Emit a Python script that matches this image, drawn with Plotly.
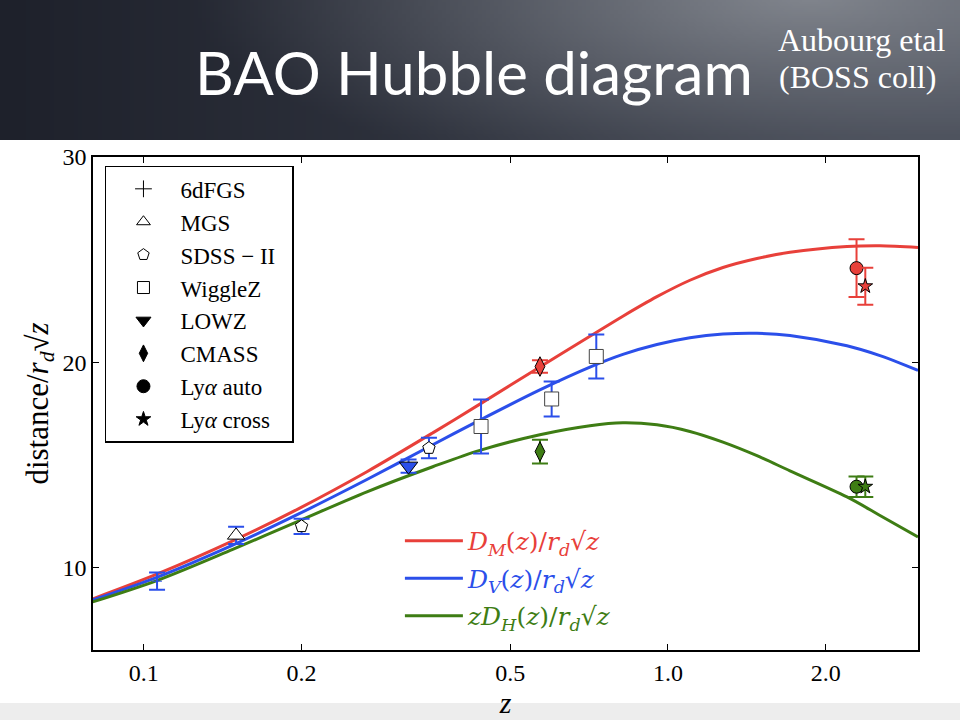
import base64, struct, zlib, math
import plotly.graph_objects as go

# ---------------- data ----------------
curve_z = [0.0799, 0.1059, 0.1478, 0.1984, 0.2665, 0.3559, 0.4377, 0.5697, 0.7099,
           0.8205, 0.9528, 1.1015, 1.2735, 1.4786, 1.7094, 2.1957, 2.5387, 3.0]
dm_curve = [8.49, 9.69, 11.31, 12.91, 14.68, 16.57, 17.97, 19.78, 21.27,
            22.25, 23.20, 24.00, 24.62, 25.06, 25.36, 25.64, 25.68, 25.60]
dv_curve = [8.44, 9.54, 11.11, 12.65, 14.30, 15.99, 17.19, 18.66, 19.77,
            20.39, 20.87, 21.20, 21.38, 21.42, 21.31, 20.81, 20.33, 19.61]
dh_curve = [8.34, 9.38, 10.90, 12.30, 13.70, 14.92, 15.72, 16.48, 16.92,
            17.06, 16.96, 16.64, 16.12, 15.46, 14.72, 13.45, 12.55, 11.50]

# D_V points
sixdf_z, sixdf_v, sixdf_e = [0.106], [9.35], [0.42]
mgs_z, mgs_v, mgs_e = [0.15], [11.58], [0.42]
sdss_z, sdss_v, sdss_e = [0.20, 0.35], [12.02, 15.83], [0.37, 0.50]
wigz_z, wigz_v, wigz_e = [0.44, 0.60, 0.73], [16.88, 18.22, 20.29], [1.32, 0.85, 1.07]
lowz_z, lowz_v, lowz_e = [0.32], [14.95], [0.32]
# D_M points
cmass_z, cmass_dm, cmass_dm_e = [0.57], [19.80], [0.30]
lya_auto_z, lya_auto_dm, lya_auto_dm_e = [2.29], [24.59], [1.40]
lya_cross_z, lya_cross_dm, lya_cross_dm_e = [2.38], [23.71], [0.90]
# z D_H points
cmass_dh, cmass_dh_e = [15.66], [0.58]
lya_auto_dh, lya_auto_dh_e = [13.95], [0.50]
lya_cross_dh, lya_cross_dh_e = [13.95], [0.50]

x_tickvals = [0.1, 0.2, 0.5, 1.0, 2.0]
x_ticktext = ["0.1", "0.2", "0.5", "1.0", "2.0"]
y_tickvals = [10, 20, 30]

RED = "#E8403A"
BLUE = "#2B4FEA"
GREEN = "#3E7D14"
SERIF = "Liberation Serif"

# ---------------- header gradient image ----------------
def header_png(w, h):
    rows = []
    for j in range(h):
        y = (j + 0.5) / h * 140.0
        row = bytearray([0])
        for i in range(w):
            x = (i + 0.5) / w * 960.0
            fx = x / 960.0
            base = [30 + 36 * fx, 33 + 38 * fx, 43 + 40 * fx]
            t = math.sqrt(((x - 810) / 620.0) ** 2 + ((y + 5) / 200.0) ** 2)
            k = max(0.0, 1 - t) ** 1.15
            light = [130, 134, 142]
            c = [int(base[n] + (light[n] - base[n]) * k) for n in range(3)]
            row.extend(c)
        rows.append(bytes(row))
    raw = b"".join(rows)

    def chunk(t, d):
        return struct.pack(">I", len(d)) + t + d + struct.pack(">I", zlib.crc32(t + d) & 0xffffffff)

    png = (b"\x89PNG\r\n\x1a\n" + chunk(b"IHDR", struct.pack(">IIBBBBB", w, h, 8, 2, 0, 0, 0))
           + chunk(b"IDAT", zlib.compress(raw)) + chunk(b"IEND", b""))
    return "data:image/png;base64," + base64.b64encode(png).decode()

fig = go.Figure()

# ---------------- curves ----------------
for yy, col, nm in [(dm_curve, RED, "<i>D</i><sub><i>M</i></sub>(<i>z</i>)/<i>r</i><sub><i>d</i></sub>√<i>z</i>"),
                    (dv_curve, BLUE, "<i>D</i><sub><i>V</i></sub>(<i>z</i>)/<i>r</i><sub><i>d</i></sub>√<i>z</i>"),
                    (dh_curve, GREEN, "<i>zD</i><sub><i>H</i></sub>(<i>z</i>)/<i>r</i><sub><i>d</i></sub>√<i>z</i>")]:
    fig.add_trace(go.Scatter(x=curve_z, y=yy, mode="lines",
                             line=dict(color=col, width=3, shape="spline", smoothing=0.9),
                             name="<span style='color:%s'>%s</span>" % (col, nm), legend="legend2",
                             legendgroup=nm, hoverinfo="skip"))

def pts(x, y, e, sym, fill, ecol, size, edge="black"):
    fig.add_trace(go.Scatter(x=x, y=y, mode="markers", showlegend=False,
                             error_y=dict(type="data", array=e, color=ecol, thickness=2, width=8),
                             marker=dict(symbol=sym, color=fill, size=size, line=dict(color=edge, width=1))))

pts(sixdf_z, sixdf_v, sixdf_e, "cross-thin", BLUE, BLUE, 7, BLUE)
pts(mgs_z, mgs_v, mgs_e, "triangle-up", "white", BLUE, 15)
pts(sdss_z, sdss_v, sdss_e, "pentagon", "white", BLUE, 13)
pts(wigz_z, wigz_v, wigz_e, "square", "white", BLUE, 14, "#444444")
pts(lowz_z, lowz_v, lowz_e, "triangle-down", BLUE, BLUE, 16)
pts(cmass_z, cmass_dm, cmass_dm_e, "diamond-tall", RED, RED, 14)
pts(cmass_z, cmass_dh, cmass_dh_e, "diamond-tall", GREEN, GREEN, 14)
pts(lya_auto_z, lya_auto_dm, lya_auto_dm_e, "circle", RED, RED, 13)
pts(lya_cross_z, lya_cross_dm, lya_cross_dm_e, "star", RED, RED, 11)
pts(lya_auto_z, lya_auto_dh, lya_auto_dh_e, "circle", GREEN, GREEN, 13)
pts(lya_cross_z, lya_cross_dh, lya_cross_dh_e, "star", GREEN, GREEN, 11)

# ---------------- marker legend (black symbols) ----------------
leg_items = [("6dFGS", "cross-thin", "black", 12), ("MGS", "triangle-up-open", "black", 12),
             ("SDSS − II\u00a0\u00a0", "pentagon-open", "black", 12), ("WiggleZ", "square-open", "black", 12),
             ("LOWZ", "triangle-down", "black", 13), ("CMASS", "diamond-tall", "black", 12),
             ("Ly<i>α</i> auto", "circle", "black", 13), ("Ly<i>α</i> cross", "star", "black", 11)]
for nm, sym, col, sz in leg_items:
    fig.add_trace(go.Scatter(x=[None], y=[None], mode="markers", name=nm, legend="legend", legendgroup=nm,
                             marker=dict(symbol=sym, color=col, size=sz, line=dict(color="black", width=1))))

fig.update_layout(
    width=960, height=720,
    margin=dict(l=93, r=42, t=157, b=70),
    paper_bgcolor="white", plot_bgcolor="white",
    font=dict(family=SERIF, color="black"),
    xaxis=dict(type="log", range=[math.log10(0.08), math.log10(3.0)], tickvals=x_tickvals, ticktext=x_ticktext,
               showline=True, linecolor="black", linewidth=1.5, mirror="ticks", ticks="inside", ticklen=6,
               tickcolor="black", showgrid=False, zeroline=False, tickfont=dict(family=SERIF, size=24),
               automargin=False,
               title=dict(text="<i>z</i>", font=dict(family=SERIF, size=30), standoff=4)),
    yaxis=dict(range=[6, 30], tickvals=y_tickvals, showline=True, linecolor="black", linewidth=1.5,
               mirror="ticks", ticks="inside", ticklen=6, tickcolor="black", showgrid=False, zeroline=False,
               tickfont=dict(family=SERIF, size=24), automargin=False,
               title=dict(text="distance/<i>r</i><sub><i>d</i></sub>√<i>z</i>", font=dict(family=SERIF, size=31),
                          standoff=5)),
    legend=dict(x=0.0145, y=0.982, xanchor="left", yanchor="top", bgcolor="white", bordercolor="black",
                borderwidth=1.5, font=dict(family=SERIF, size=23), tracegroupgap=0, itemwidth=64),
    legend2=dict(x=0.372, y=0.268, xanchor="left", yanchor="top", bgcolor="rgba(0,0,0,0)", borderwidth=0,
                 font=dict(family="DejaVu Serif", size=25), tracegroupgap=2, itemwidth=58),
    images=[dict(source=header_png(240, 35), xref="paper", yref="paper", x=-93 / 825, y=650 / 493,
                 sizex=960 / 825, sizey=140 / 493, sizing="stretch", xanchor="left", yanchor="top", layer="below")],
    shapes=[dict(type="rect", xref="paper", yref="paper", x0=-93 / 825, x1=867 / 825, y0=-70 / 493, y1=-53 / 493,
                 fillcolor="#ededed", line=dict(width=0), layer="below")],
    annotations=[
        dict(text="BAO Hubble diagram", xref="paper", yref="paper", x=(474 - 93) / 825, y=(650 - 72) / 493,
             xanchor="center", yanchor="middle", showarrow=False, font=dict(family="Lato", size=60, color="white")),
        dict(text="Aubourg etal", xref="paper", yref="paper", x=(861 - 93) / 825, y=(650 - 40) / 493,
             xanchor="center", yanchor="middle", showarrow=False, font=dict(family=SERIF, size=32, color="white")),
        dict(text="(BOSS coll)", xref="paper", yref="paper", x=(857 - 93) / 825, y=(650 - 77) / 493,
             xanchor="center", yanchor="middle", showarrow=False, font=dict(family=SERIF, size=32, color="white")),
    ],
)

fig.write_html("out.html", config={"displayModeBar": False},
               post_script="document.body.style.margin='0px';")
